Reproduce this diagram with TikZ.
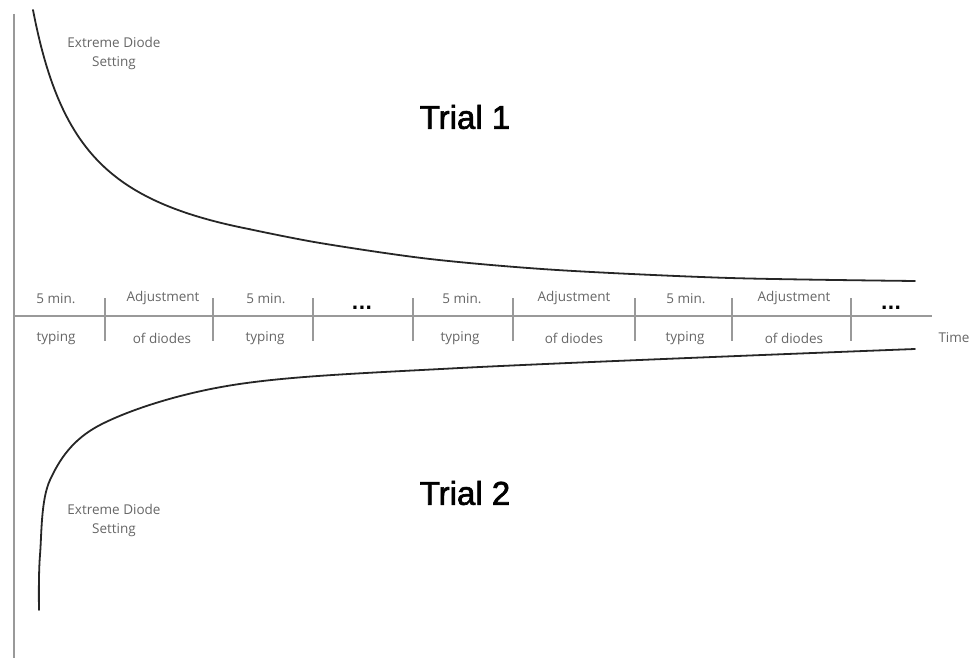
\documentclass[tikz,border=0pt]{standalone}
\usepackage{fontspec}
\setmainfont{Open Sans}
\newfontfamily\trialfont[BoldFont={Liberation Sans}, BoldFeatures={FakeBold=2}]{Liberation Sans}
\newfontfamily\dotfont{DejaVu Sans}
\begin{document}
\begin{tikzpicture}[x=1pt,y=-1pt,
  axisline/.style={draw=gray!80, line width=2pt},
  tickline/.style={draw=gray!80, line width=2pt},
  curveline/.style={draw=black!85, line width=1.8pt, line cap=round, line join=round},
  lbl/.style={text=black!60, font=\fontsize{13.5}{15}\selectfont, inner sep=0pt},
  dots/.style={text=black, font=\dotfont\bfseries\fontsize{18}{18}\selectfont, inner sep=0pt},
  trial/.style={text=black, font=\trialfont\bfseries\fontsize{33}{36}\selectfont, inner sep=0pt},
  extreme/.style={text=black!60, font=\fontsize{13.5}{19}\selectfont, align=center, inner sep=0pt}]
\useasboundingbox (0,0) rectangle (972,658);
% axes
\coordinate (vtop) at (14,14);
\coordinate (vbot) at (14,658);
\coordinate (hleft) at (14,316);
\coordinate (hright) at (932,316);
\draw[axisline] (vtop) -- (vbot);
\draw[axisline] (hleft) -- (hright);
% ticks
\foreach \x/\n in {105/t1,213/t2,313/t3,413/t4,513/t5,635/t6,732/t7,851/t8}{
  \coordinate (\n a) at (\x,298);
  \coordinate (\n b) at (\x,341);
  \draw[tickline] (\n a) -- (\n b);
}
% upper labels
\node[lbl] (u1) at (56,299) {5 min.};
\node[lbl] (u2) at (163,298) {Adjustment};
\node[lbl] (u3) at (266,299) {5 min.};
\node[dots] (d1) at (362,308) {...};
\node[lbl] (u4) at (462,299) {5 min.};
\node[lbl] (u5) at (574,298) {Adjustment};
\node[lbl] (u6) at (686,299) {5 min.};
\node[lbl] (u7) at (794,298) {Adjustment};
\node[dots] (d2) at (891,308) {...};
% lower labels
\node[lbl] (l1) at (56,338) {typing};
\node[lbl] (l2) at (162,338) {of diodes};
\node[lbl] (l3) at (265,338) {typing};
\node[lbl] (l4) at (460,338) {typing};
\node[lbl] (l5) at (574,338) {of diodes};
\node[lbl] (l6) at (685,338) {typing};
\node[lbl] (l7) at (794,338) {of diodes};
\node[lbl] (time) at (954,338) {Time};
% trial labels
\node[trial] (trial1) at (465,117) {Trial 1};
\node[trial] (trial2) at (465,493) {Trial 2};
% extreme labels
\node[extreme] (ex1) at (114,53) {Extreme Diode\\Setting};
\node[extreme] (ex2) at (114,520) {Extreme Diode\\Setting};
% curves
\draw[curveline] plot[domain=33:250, samples=80] (\x,{282-14198/(\x+19.2)});
\draw[curveline] plot[smooth, tension=0.5] coordinates {(250,229.3) (320,243) (430,259) (557,270) (730,278) (915,281)};
\draw[curveline] plot[smooth, tension=0.55] coordinates {(39,610) (40,555) (50,480) (100,425) (233,385) (460,368) (915,349)};
\end{tikzpicture}
\end{document}
